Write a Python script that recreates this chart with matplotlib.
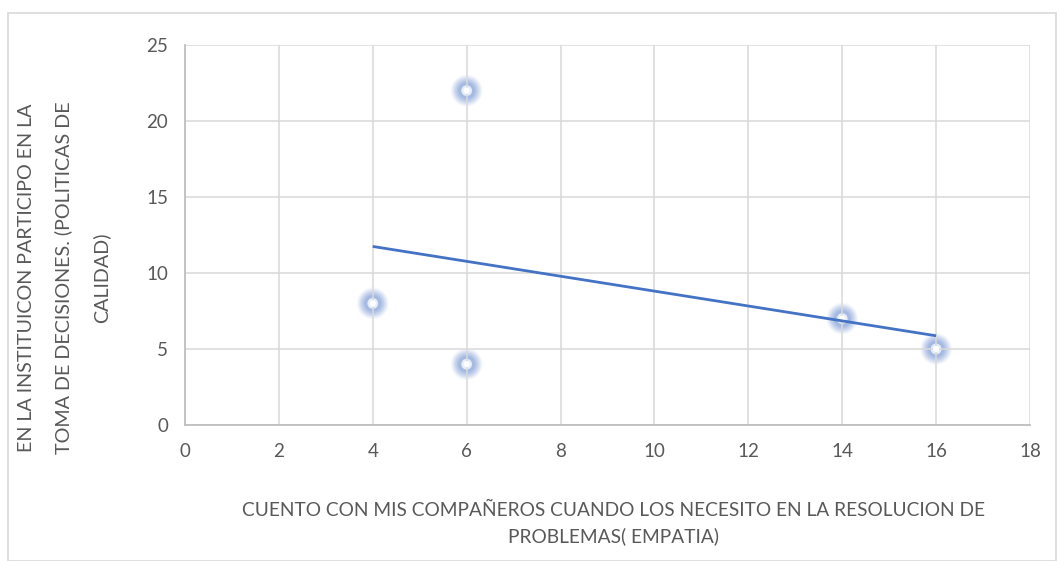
import numpy as np
import matplotlib
matplotlib.use("Agg")
import matplotlib.pyplot as plt
from matplotlib.patches import Rectangle

# Survey responses
empatia = [4, 6, 6, 14, 16]
participacion = [8, 22, 4, 7, 5]

x_ticks = [0, 2, 4, 6, 8, 10, 12, 14, 16, 18]
y_ticks = [0, 5, 10, 15, 20, 25]

x_label = "CUENTO CON MIS COMPAÑEROS CUANDO LOS NECESITO EN LA RESOLUCION DE\nPROBLEMAS( EMPATIA)"
y_label = "EN LA INSTITUICON PARTICIPO EN LA\nTOMA DE DECISIONES. (POLITICAS DE\nCALIDAD)"

plt.rcParams["font.family"] = ["Lato", "DejaVu Sans"]
text_color = "#595959"
blue = "#4472C4"

fig = plt.figure(figsize=(10.61, 5.61), dpi=100)
fig.patch.set_facecolor("white")

# outer chart border
fig.patches.append(Rectangle((8 / 1061, 0), 1048 / 1061, 1 - 13 / 561,
                             transform=fig.transFigure, fill=False,
                             edgecolor="#D9D9D9", linewidth=1.2))

ax = fig.add_axes([185 / 1061, 1 - 425 / 561, 845 / 1061, 380 / 561])
ax.set_xlim(0, 18)
ax.set_ylim(0, 25)
ax.set_xticks(x_ticks)
ax.set_yticks(y_ticks)
ax.tick_params(length=0, labelsize=13.5, colors=text_color)
ax.tick_params(axis="x", pad=13)
ax.tick_params(axis="y", pad=12)
ax.grid(True, color="#D9D9D9", linewidth=1.1, zorder=3)
ax.set_axisbelow(False)
for s in ["top", "right"]:
    ax.spines[s].set_visible(False)
for s in ["bottom", "left"]:
    ax.spines[s].set_color("#BFBFBF")
    ax.spines[s].set_linewidth(1.3)
    ax.spines[s].set_zorder(3)

# soft ring markers
for size, alpha in [(520, 0.07), (440, 0.11), (360, 0.15), (280, 0.2), (200, 0.24), (140, 0.24)]:
    ax.scatter(empatia, participacion, s=size, color="#7B9BD6", alpha=alpha,
               edgecolors="none", zorder=2)
ax.scatter(empatia, participacion, s=60, color="white", edgecolors="none",
           alpha=0.75, zorder=2.5)
ax.scatter(empatia, participacion, s=20, color="white", edgecolors="none", zorder=2.6)

# linear trend line across the data range
slope, intercept = np.polyfit(empatia, participacion, 1)
xs = np.array([min(empatia), max(empatia)])
ax.plot(xs, slope * xs + intercept, color=blue, linewidth=2.0, zorder=4,
        solid_capstyle="butt")

fig.text(613 / 1061, 1 - 524 / 561, x_label, ha="center", va="center",
         fontsize=13.8, color=text_color, linespacing=1.55)
fig.text(64 / 1061, 1 - 278 / 561, y_label, ha="center", va="center",
         rotation=90, fontsize=14.2, color=text_color, linespacing=2.3,
         multialignment="center")

fig.savefig("out.png", dpi=100, facecolor="white")
